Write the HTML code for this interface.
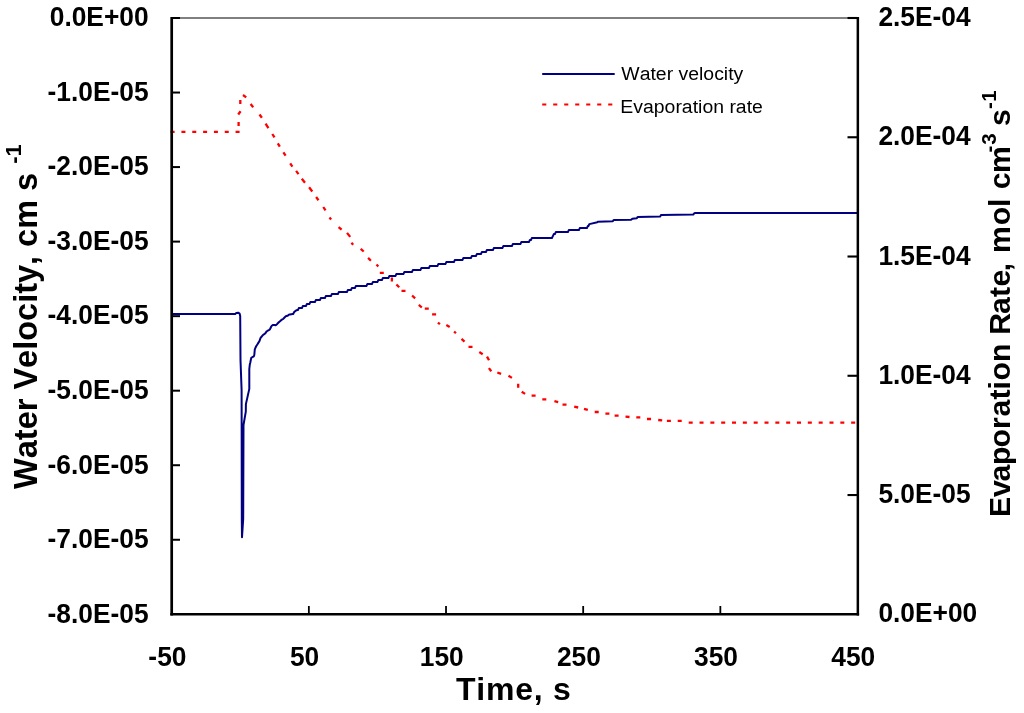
<!DOCTYPE html>
<html lang="en"><head><meta charset="utf-8"><title>Water velocity and evaporation rate vs. time</title>
<style>
html,body{margin:0;padding:0;background:#fff;}
svg{display:block;will-change:transform;}
text{font-kerning:none;font-family:"Liberation Sans",sans-serif;fill:#000;}
.tk{font-size:26.35px;font-weight:bold;}
.ax{font-size:32px;font-weight:bold;}
.lg{font-size:18.6px;}
</style></head>
<body>
<svg width="1024" height="713" viewBox="0 0 1024 713">
<rect width="1024" height="713" fill="#fff"/>
<line x1="171.70" y1="18.00" x2="857.50" y2="18.00" stroke="#808080" stroke-width="2.2" />
<line x1="171.70" y1="18.00" x2="180.00" y2="18.00" stroke="#000" stroke-width="2.0" />
<line x1="171.70" y1="92.54" x2="180.00" y2="92.54" stroke="#000" stroke-width="2.0" />
<line x1="171.70" y1="167.07" x2="180.00" y2="167.07" stroke="#000" stroke-width="2.0" />
<line x1="171.70" y1="241.61" x2="180.00" y2="241.61" stroke="#000" stroke-width="2.0" />
<line x1="171.70" y1="316.15" x2="180.00" y2="316.15" stroke="#000" stroke-width="2.0" />
<line x1="171.70" y1="390.69" x2="180.00" y2="390.69" stroke="#000" stroke-width="2.0" />
<line x1="171.70" y1="465.22" x2="180.00" y2="465.22" stroke="#000" stroke-width="2.0" />
<line x1="171.70" y1="539.76" x2="180.00" y2="539.76" stroke="#000" stroke-width="2.0" />
<line x1="847.50" y1="495.04" x2="857.50" y2="495.04" stroke="#000" stroke-width="2.1" />
<line x1="847.50" y1="375.78" x2="857.50" y2="375.78" stroke="#000" stroke-width="2.1" />
<line x1="847.50" y1="256.52" x2="857.50" y2="256.52" stroke="#000" stroke-width="2.1" />
<line x1="847.50" y1="137.26" x2="857.50" y2="137.26" stroke="#000" stroke-width="2.1" />
<line x1="847.50" y1="18.00" x2="857.50" y2="18.00" stroke="#000" stroke-width="2.1" />
<line x1="308.86" y1="606.00" x2="308.86" y2="614.30" stroke="#000" stroke-width="1.8" />
<line x1="446.02" y1="606.00" x2="446.02" y2="614.30" stroke="#000" stroke-width="1.8" />
<line x1="583.18" y1="606.00" x2="583.18" y2="614.30" stroke="#000" stroke-width="1.8" />
<line x1="720.34" y1="606.00" x2="720.34" y2="614.30" stroke="#000" stroke-width="1.8" />
<path d="M170.6,131.8 H239.8" fill="none" stroke="#ff0000" stroke-width="2.2" stroke-dasharray="4 6.83"/>
<path d="M238.6,121.9L238.6,125.9M238.2,114.5L240.6,111.3M240.3,99.9L240.3,103.9M243.0,95.0L246.2,97.4M250.6,104.0L253.2,107.2M259.5,114.5L261.9,117.7M265.6,123.7L268.4,128.1M272.3,134.0L274.5,137.4M277.8,143.3L279.8,146.7M283.4,152.3L285.6,155.7M290.2,163.4L292.4,166.6M296.1,170.9L298.5,174.1M301.8,178.7L305.0,182.7M309.1,187.3L312.3,191.5M316.1,197.0L318.5,200.2M323.3,207.0L325.5,210.4M329.5,217.5L331.1,219.5M338.6,227.1L341.6,229.7M347.0,232.9L350.2,236.9M351.4,242.8L353.2,244.8M360.7,248.9L363.7,251.5M368.1,257.9L370.9,260.7M376.5,264.6L378.3,266.6M379.8,272.9L383.8,272.9M391.9,277.6L391.9,281.6M396.4,284.5L399.2,287.3M401.5,290.8L405.5,290.8M412.1,295.5L415.1,298.3M418.8,304.9L421.8,307.5M424.8,308.7L428.8,308.7M432.1,314.3L436.1,314.3M437.9,322.6L439.9,324.2M446.3,325.0L449.7,327.0M454.1,331.5L455.9,333.3M461.5,338.8L464.5,341.6M468.5,346.8L472.5,346.8M479.3,352.0L482.7,354.2M487.0,356.6L489.0,360.2M488.9,368.1L491.3,371.3M497.3,372.5L501.1,373.9M508.5,375.7L511.9,377.9M518.2,383.8L518.2,387.8M521.7,391.7L525.1,393.9M531.6,395.7L535.6,395.7M542.3,399.3L546.3,399.3M554.4,401.1L558.2,402.1M562.5,404.7L566.5,404.7M574.2,406.7L578.2,407.5M584.0,408.9L587.8,409.9M594.7,412.0L598.7,412.0M605.4,413.7L609.4,413.7M614.6,415.7L618.6,415.7M625.5,416.6L629.5,417.0M636.3,417.4L640.3,417.4M647.0,419.0L651.0,419.0M658.2,420.0L662.2,420.4M666.9,420.9L670.9,420.9M677.7,420.9L681.7,420.9" fill="none" stroke="#ff0000" stroke-width="2.3"/>
<path d="M688.7,422.7 H856" fill="none" stroke="#ff0000" stroke-width="2.2" stroke-dasharray="4 6.83"/>
<path d="M172.5,314.1 L235.2,314.1 L236.3,312.9 L238.2,312.7 L239.6,313.6 L240.2,316.0 L240.5,360.0 L241.6,390.0 L241.8,520.0 L242.0,537.2 L243.2,519.0 L243.5,425.0 L245.8,411.7 L245.9,404.1 L249.3,388.9 L249.3,369.0 L249.3,369.0 L249.8,364.5 L250.3,362.5 L250.8,360.0 L251.3,357.8 L251.8,357.5 L252.3,357.2 L252.8,356.9 L253.3,356.6 L253.8,356.3 L254.3,355.0 L254.8,349.3 L255.3,348.1 L255.8,347.0 L256.3,346.0 L256.8,345.3 L257.3,344.5 L257.8,343.7 L258.3,342.9 L258.8,342.1 L259.3,341.4 L259.8,340.2 L260.3,338.4 L260.8,337.5 L261.3,337.0 L261.8,336.4 L262.3,335.8 L262.8,335.2 L263.3,334.8 L263.8,334.4 L264.3,334.1 L264.8,333.7 L265.3,333.3 L265.8,332.7 L266.3,331.8 L266.8,331.3 L267.3,331.0 L267.8,330.7 L268.3,330.4 L268.8,330.1 L269.3,329.8 L269.8,329.4 L270.3,328.5 L270.8,327.5 L271.3,326.6 L271.8,325.6 L272.3,325.4 L272.8,325.1 L273.3,325.0 L273.8,325.1 L274.3,325.1 L274.8,325.1 L275.3,325.2 L275.8,325.2 L276.3,324.9 L276.8,324.4 L277.3,323.8 L277.8,323.3 L278.3,322.8 L278.8,322.3 L279.3,321.9 L279.8,321.4 L280.3,321.0 L280.8,320.5 L281.3,320.1 L281.8,319.7 L282.3,319.4 L282.8,319.1 L283.3,318.7 L283.8,318.2 L284.3,317.7 L284.8,317.2 L285.3,316.7 L285.8,316.2 L286.3,316.1 L286.8,316.0 L287.3,315.8 L287.8,315.6 L288.3,315.2 L288.8,314.8 L289.3,314.6 L289.8,314.5 L290.3,314.4 L290.8,314.3 L291.3,314.3 L291.8,314.2 L292.3,314.1 L292.8,314.1 L293.3,314.0 L293.8,312.7 L294.3,311.9 L294.8,311.5 L295.3,311.1 L295.8,310.7 L296.3,310.4 L296.8,310.2 L296.4,310.2 L297.3,310.1 L297.9,310.1 L298.8,308.1 L301.9,308.1 L302.8,306.1 L305.9,306.1 L306.8,304.1 L309.4,304.1 L310.3,302.1 L314.9,302.1 L315.8,300.1 L319.9,300.1 L320.8,298.1 L324.9,298.1 L325.8,296.1 L330.9,296.1 L331.8,294.1 L337.9,294.1 L338.8,292.1 L346.9,292.1 L347.8,290.1 L350.9,290.1 L351.8,288.1 L354.9,288.1 L355.8,286.1 L366.4,286.1 L367.3,284.1 L371.9,284.1 L372.8,282.1 L377.4,282.1 L378.3,280.1 L381.9,280.1 L382.8,278.1 L388.4,278.1 L389.3,276.1 L395.4,276.1 L396.3,274.1 L403.4,274.1 L404.3,272.1 L411.9,272.1 L412.8,270.1 L420.4,270.1 L421.3,268.1 L428.9,268.1 L429.8,266.1 L437.4,266.1 L438.3,264.1 L445.4,264.1 L446.3,262.1 L453.9,262.1 L454.8,260.1 L462.4,260.1 L463.3,258.1 L470.9,258.1 L471.8,256.1 L475.9,256.1 L476.8,254.1 L480.9,254.1 L481.8,252.1 L485.9,252.1 L486.8,250.1 L492.9,250.1 L493.8,248.1 L502.4,248.1 L503.3,246.1 L511.9,246.1 L512.8,244.1 L520.4,244.1 L521.3,242.1 L528.9,242.1 L529.8,240.1 L530.9,240.1 L531.8,238.1 L551.9,238.1 L552.8,236.1 L552.9,236.1 L553.8,234.1 L554.9,234.1 L555.8,232.1 L567.9,232.1 L568.8,230.1 L578.9,230.1 L579.8,228.1 L586.9,228.1 L587.8,226.1 L588.4,226.1 L589.3,224.1 L597.3,222.2 L597.8,221.8 L612.8,221.3 L613.3,220.4 L613.8,220.1 L631.3,219.7 L631.8,219.1 L632.3,218.8 L636.8,218.3 L637.3,217.4 L637.8,217.0 L660.3,216.4 L660.8,215.3 L661.3,214.9 L693.3,214.5 L693.8,213.9 L694.3,213.3 L694.8,213.1 L857.0,213.1" fill="none" stroke="#000080" stroke-width="2" stroke-linejoin="round"/>
<path d="M171.70,17.00 V615.55" fill="none" stroke="#000" stroke-width="2.7"/><path d="M857.85,17.00 V615.55" fill="none" stroke="#000" stroke-width="2.5"/><path d="M170.35,614.30 H859.10" fill="none" stroke="#000" stroke-width="2.5"/>
<text transform="translate(148.6,26.3) scale(1,1.06)" text-anchor="end" class="tk">0.0E+00</text>
<text transform="translate(148.6,100.8) scale(1,1.06)" text-anchor="end" class="tk">-1.0E-05</text>
<text transform="translate(148.6,175.4) scale(1,1.06)" text-anchor="end" class="tk">-2.0E-05</text>
<text transform="translate(148.6,249.9) scale(1,1.06)" text-anchor="end" class="tk">-3.0E-05</text>
<text transform="translate(148.6,324.4) scale(1,1.06)" text-anchor="end" class="tk">-4.0E-05</text>
<text transform="translate(148.6,399.0) scale(1,1.06)" text-anchor="end" class="tk">-5.0E-05</text>
<text transform="translate(148.6,473.5) scale(1,1.06)" text-anchor="end" class="tk">-6.0E-05</text>
<text transform="translate(148.6,548.1) scale(1,1.06)" text-anchor="end" class="tk">-7.0E-05</text>
<text transform="translate(148.6,622.6) scale(1,1.06)" text-anchor="end" class="tk">-8.0E-05</text>
<text transform="translate(878.4,622.4) scale(1,1.06)" class="tk">0.0E+00</text>
<text transform="translate(878.4,503.1) scale(1,1.06)" class="tk">5.0E-05</text>
<text transform="translate(878.4,383.9) scale(1,1.06)" class="tk">1.0E-04</text>
<text transform="translate(878.4,264.6) scale(1,1.06)" class="tk">1.5E-04</text>
<text transform="translate(878.4,145.4) scale(1,1.06)" class="tk">2.0E-04</text>
<text transform="translate(878.4,26.1) scale(1,1.06)" class="tk">2.5E-04</text>
<text transform="translate(167.4,666.1) scale(1,1.06)" text-anchor="middle" class="tk">-50</text>
<text transform="translate(304.6,666.1) scale(1,1.06)" text-anchor="middle" class="tk">50</text>
<text transform="translate(441.7,666.1) scale(1,1.06)" text-anchor="middle" class="tk">150</text>
<text transform="translate(578.9,666.1) scale(1,1.06)" text-anchor="middle" class="tk">250</text>
<text transform="translate(716.0,666.1) scale(1,1.06)" text-anchor="middle" class="tk">350</text>
<text transform="translate(853.2,666.1) scale(1,1.06)" text-anchor="middle" class="tk">450</text>
<!-- legend -->
<line x1="542.2" y1="73.9" x2="614.7" y2="73.9" stroke="#000080" stroke-width="2"/>
<line x1="542.2" y1="104.4" x2="614" y2="104.4" stroke="#ff0000" stroke-width="2" stroke-dasharray="4.1 6.9"/>
<text transform="translate(621.3,80.3) scale(1.045,1)" class="lg">Water velocity</text>
<text transform="translate(620.3,112.9) scale(1.045,1)" class="lg">Evaporation rate</text>
<!-- axis titles -->
<text x="456" y="699.8" class="ax" letter-spacing="0.75">Time, s</text>
<text transform="translate(37.3,488.9) rotate(-90)" class="ax" style="font-size:32.5px">Water Velocity, cm s <tspan font-size="22" dy="-16">-1</tspan></text>
<text transform="translate(1010.4,515.1) rotate(-90)" class="ax" style="font-size:30.2px"><tspan x="-2.0" y="0">E</tspan><tspan x="18.0" y="0">v</tspan><tspan x="33.6" y="0">a</tspan><tspan x="50.0" y="0">p</tspan><tspan x="67.7" y="0">o</tspan><tspan x="86.2" y="0">r</tspan><tspan x="98.7" y="0">a</tspan><tspan x="115.5" y="0">t</tspan><tspan x="125.6" y="0">i</tspan><tspan x="134.5" y="0">o</tspan><tspan x="153.1" y="0">n</tspan><tspan x="180.3" y="0">R</tspan><tspan x="201.2" y="0">a</tspan><tspan x="218.1" y="0">t</tspan><tspan x="228.6" y="0">e</tspan><tspan x="243.8" y="0">,</tspan><tspan x="262.2" y="0">m</tspan><tspan x="289.9" y="0">o</tspan><tspan x="308.1" y="0">l</tspan><tspan x="325.9" y="0">c</tspan><tspan x="342.0" y="0">m</tspan><tspan x="389.1" y="0">s</tspan><tspan x="362.5" y="-14.2" font-size="20.5">-</tspan><tspan x="370.3" y="-14.2" font-size="20.5">3</tspan><tspan x="406.2" y="-14.2" font-size="20.5">-</tspan><tspan x="413.3" y="-14.2" font-size="20.5">1</tspan></text>
</svg>
</body></html>
